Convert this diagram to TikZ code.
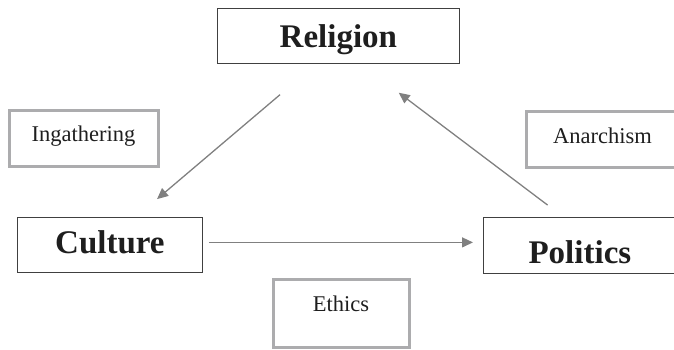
\documentclass[tikz,border=0pt]{standalone}
\usepackage{fontspec}
\setmainfont{Liberation Serif}
\usepackage{tikz}
\usetikzlibrary{arrows.meta}
\definecolor{boxgray}{RGB}{172,172,174}
\definecolor{arrowgray}{RGB}{128,128,128}
\definecolor{inkgray}{RGB}{30,30,30}
\tikzset{
	concept/.style={draw=black!75,line width=0.8pt,inner sep=0pt,anchor=north west,align=center,text=inkgray,font=\fontsize{33}{36}\selectfont\bfseries},
	theme/.style={draw=boxgray,line width=3pt,inner sep=0pt,anchor=north west,align=center,text=inkgray,font=\fontsize{22.5}{26}\selectfont},
	flow/.style={draw=arrowgray,line width=1.3pt,-{Triangle[length=11pt,width=10pt]}},
}
\begin{document}
\begin{tikzpicture}[x=1pt,y=-1pt]
\useasboundingbox (0,0) rectangle (674,350);
\node[concept,text width=242pt,text height=39pt,text depth=16pt] (religion) at (217,8) {Religion};
\node[concept,text width=185pt,text height=36pt,text depth=19pt] (culture) at (17,217) {Culture};
\node[concept,text width=193pt,text height=46pt,text depth=10pt] (politics) at (483,217) {Politics};
\node[theme,text width=149pt,text height=30.5pt,text depth=24.5pt] (ingathering) at (7.5,109.5) {Ingathering};
\node[theme,text width=153pt,text height=31.5pt,text depth=23.5pt] (anarchism) at (524.5,110.5) {Anarchism};
\node[theme,text width=136pt,text height=32.5pt,text depth=35.5pt] (ethics) at (271.5,277.5) {Ethics};
\draw[flow,shorten <=47.7pt,shorten >=27.7pt] ([xshift=-22pt]religion.south) -- ([xshift=26pt]culture.north);
\draw[flow,shorten <=19.8pt,shorten >=48pt] ([xshift=-16.5pt]politics.north) -- ([xshift=22pt]religion.south);
\draw[flow,shorten <=6pt,shorten >=10pt] ([yshift=2.5pt]culture.east) -- ([yshift=3pt]politics.west);
\end{tikzpicture}
\end{document}
